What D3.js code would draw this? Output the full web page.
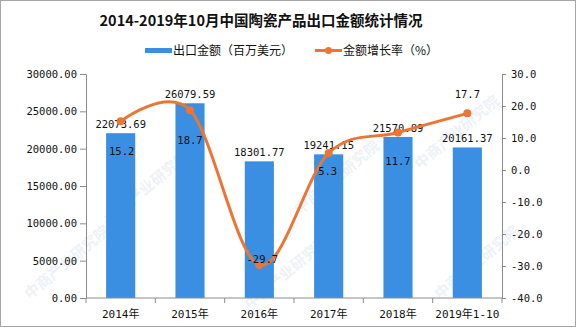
<!DOCTYPE html>
<html><head><meta charset="utf-8">
<script src="https://cdn.jsdelivr.net/npm/d3@7"></script>
<style>
html,body{margin:0;padding:0;background:#fff;}
svg{display:block;}
</style></head>
<body>
<svg id="chart" width="576" height="327"></svg>
<script>
const categories = ["2014年","2015年","2016年","2017年","2018年","2019年1-10"];
const exportValues = [22073.69, 26079.59, 18301.77, 19241.15, 21570.89, 20161.37];
const growthRates = [15.2, 18.7, -29.7, 5.3, 11.7, 17.7];
const leftTicks = [0,5000,10000,15000,20000,25000,30000];
const rightTicks = [-40,-30,-20,-10,0,10,20,30];
const titleText = "2014-2019年10月中国陶瓷产品出口金额统计情况";
const legendBar = "出口金额（百万美元）";
const legendLine = "金额增长率（%）";

const W = 576, H = 327;
const m = {left:86, right:502, top:74, bottom:298};
const svg = d3.select("#chart");
const monoFont = "'DejaVu Sans Mono','Noto Sans CJK SC',monospace";
const barColor = "#3a8fe3", lineColor = "#ed7533", axisColor = "#8c8c8c";

// faint watermarks
const wm = svg.append("g").attr("fill","#edf2f7").attr("font-family","'Noto Sans CJK SC'").attr("font-size",15).attr("font-weight","bold");
[[110,225],[300,215],[250,310],[420,170],[30,300],[440,300]].forEach(p=>{
  wm.append("text").attr("transform",`translate(${p[0]},${p[1]}) rotate(-40)`).text("中商产业研究院");
});

// border
svg.append("rect").attr("x",0.5).attr("y",0.5).attr("width",W-1).attr("height",H-1)
  .attr("fill","none").attr("stroke","#a6a6a6");

const x = d3.scaleBand().domain(categories).range([m.left,m.right]).paddingInner(0).paddingOuter(0);
const yL = d3.scaleLinear().domain([0,30000]).range([m.bottom,m.top]);
const yR = d3.scaleLinear().domain([-40,30]).range([m.bottom,m.top]);
const barW = x.bandwidth()*0.42;

// title
svg.append("text").attr("x",261).attr("y",26).attr("text-anchor","middle")
  .attr("font-family","'Noto Sans CJK SC'").attr("font-weight","bold").attr("font-size",14.5)
  .attr("fill","#111").text(titleText);

// legend
const lg = svg.append("g").attr("font-family","'Noto Sans CJK SC'").attr("font-size",12).attr("fill","#111");
lg.append("rect").attr("x",145).attr("y",48).attr("width",27).attr("height",5).attr("fill",barColor);
lg.append("text").attr("x",173).attr("y",55).text(legendBar);
lg.append("line").attr("x1",315).attr("x2",342).attr("y1",50.5).attr("y2",50.5).attr("stroke",lineColor).attr("stroke-width",3);
lg.append("circle").attr("cx",328.5).attr("cy",50.5).attr("r",3.5).attr("fill",lineColor);
lg.append("text").attr("x",343).attr("y",55).text(legendLine);

// left axis
const axL = svg.append("g").attr("transform",`translate(${m.left},0)`)
  .call(d3.axisLeft(yL).tickValues(leftTicks).tickFormat(d=>d.toFixed(2)).tickSize(6).tickSizeOuter(0));
// right axis
const axR = svg.append("g").attr("transform",`translate(${m.right},0)`)
  .call(d3.axisRight(yR).tickValues(rightTicks).tickFormat(d=>d.toFixed(1)).tickSize(4).tickSizeOuter(0));
[axL,axR].forEach(a=>{
  a.selectAll("path,line").attr("stroke",axisColor);
  a.selectAll("text").attr("font-family",monoFont).attr("font-size",10.5).attr("fill","#111");
});
axL.selectAll("text").attr("x",-9);
axR.selectAll("text").attr("x",9);

// bars
svg.append("g").selectAll("rect").data(exportValues).join("rect")
  .attr("x",(d,i)=>x(categories[i])+x.bandwidth()/2-barW/2)
  .attr("y",d=>yL(d)).attr("width",barW).attr("height",d=>yL(0)-yL(d))
  .attr("fill",barColor);

// x axis
const axB = svg.append("g").attr("transform",`translate(0,${m.bottom})`);
axB.append("line").attr("x1",m.left).attr("x2",m.right).attr("stroke",axisColor);
const bounds = categories.map(c=>x(c)).concat([x.range()[1]]);
axB.selectAll("line.tk").data(bounds).join("line").attr("class","tk")
  .attr("x1",d=>d).attr("x2",d=>d).attr("y1",0).attr("y2",5).attr("stroke",axisColor);
axB.selectAll("text").data(categories).join("text")
  .attr("x",d=>x(d)+x.bandwidth()/2).attr("y",20).attr("text-anchor","middle")
  .attr("font-family",monoFont).attr("font-size",11).attr("fill","#111").text(d=>d);

// bar labels
svg.append("g").selectAll("text").data(exportValues).join("text")
  .attr("x",(d,i)=>x(categories[i])+x.bandwidth()/2).attr("y",d=>yL(d)-5)
  .attr("text-anchor","middle").attr("font-family",monoFont).attr("font-size",10.5).attr("fill","#111")
  .text(d=>d.toFixed(2));

// line
const pts = growthRates.map((d,i)=>[x(categories[i])+x.bandwidth()/2, yR(d)]);
svg.append("path").attr("d",d3.line().curve(d3.curveCardinal.tension(0))(pts))
  .attr("fill","none").attr("stroke",lineColor).attr("stroke-width",3);
svg.append("g").selectAll("circle").data(pts).join("circle")
  .attr("cx",d=>d[0]).attr("cy",d=>d[1]).attr("r",4).attr("fill",lineColor);

// line labels (label offsets relative to each point)
const labelDy = [34, 34, -2, 22, 32, -15];
const labelDx = [1, 0, 3, -1, 0, 0];
svg.append("g").selectAll("text").data(growthRates).join("text")
  .attr("x",(d,i)=>pts[i][0]+labelDx[i]).attr("y",(d,i)=>pts[i][1]+labelDy[i])
  .attr("text-anchor","middle").attr("font-family",monoFont).attr("font-size",10.5).attr("fill","#111")
  .text(d=>d.toFixed(1));
</script>
</body></html>
